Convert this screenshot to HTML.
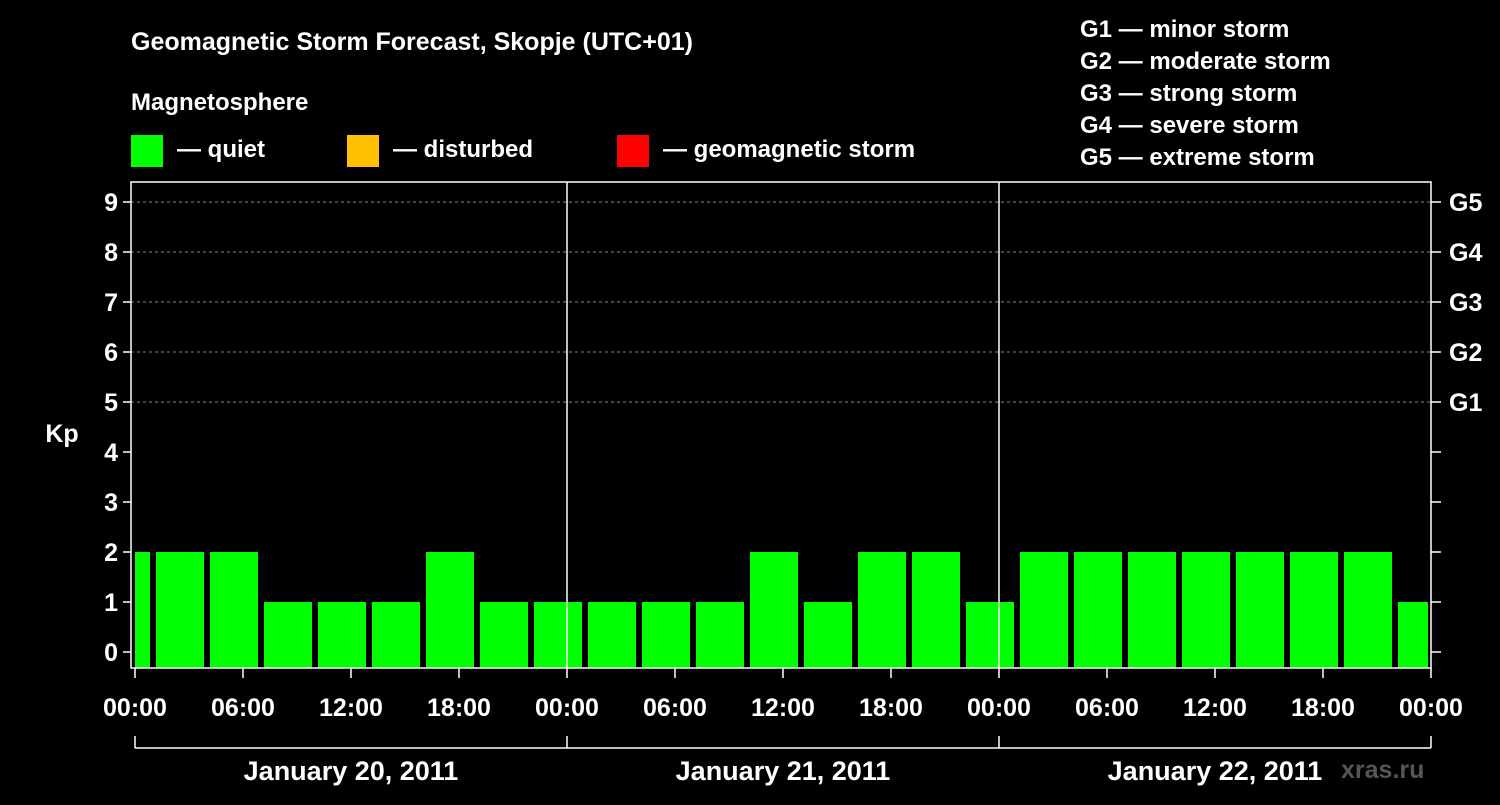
<!DOCTYPE html>
<html><head><meta charset="utf-8"><style>
body{margin:0;background:#000;width:1500px;height:800px;overflow:hidden}
svg text{font-family:"Liberation Sans",sans-serif;font-weight:bold;fill:#fff}
</style></head><body>
<svg id="c" width="1500" height="800">
<text x="131" y="50" font-size="25">Geomagnetic Storm Forecast, Skopje (UTC+01)</text>
<text x="131" y="110" font-size="24">Magnetosphere</text>
<g><rect x="131" y="135" width="32" height="32" fill="#00ff00"/><text x="177" y="157" font-size="24">— quiet</text></g>
<g><rect x="347" y="135" width="32" height="32" fill="#ffc000"/><text x="393" y="157" font-size="24">— disturbed</text></g>
<g><rect x="617" y="135" width="32" height="32" fill="#ff0000"/><text x="663" y="157" font-size="24">— geomagnetic storm</text></g>
<g font-size="24">
<text x="1080" y="37">G1 — minor storm</text><text x="1080" y="69">G2 — moderate storm</text><text x="1080" y="101">G3 — strong storm</text><text x="1080" y="133">G4 — severe storm</text><text x="1080" y="165">G5 — extreme storm</text></g>
<text x="62" y="442" font-size="25" text-anchor="middle">Kp</text>
<text x="1341" y="778" font-size="25" fill="#555" style="fill:#555">xras.ru</text>
<g id="plot"></g>
</svg>
<script>
const values=[2,2,2,1,1,1,2,1,1,1,1,1,2,1,2,2,1,2,2,2,2,2,2,2,1];
const yTicks=[0,1,2,3,4,5,6,7,8,9];
const gLabels=["G1","G2","G3","G4","G5"];
const xLabels=["00:00","06:00","12:00","18:00","00:00","06:00","12:00","18:00","00:00","06:00","12:00","18:00","00:00"];
const days=["January 20, 2011","January 21, 2011","January 22, 2011"];
const NS="http://www.w3.org/2000/svg";
const L=131,R=1431,T=182,B=668,x0=135,pxH=18;
const y=v=>652-50*v;
const x=h=>x0+h*pxH;
const g=document.getElementById('plot');
function mk(t,a,p){const e=document.createElementNS(NS,t);for(const k in a)e.setAttribute(k,a[k]);(p||g).appendChild(e);return e;}
yTicks.forEach(v=>{
 if(v>=5){const e=mk('line',{x1:L,x2:R,y1:y(v),y2:y(v),stroke:'#888','stroke-dasharray':'3,3'});
 
 }
 mk('line',{x1:L-8,x2:L,y1:y(v),y2:y(v),stroke:'#fff','stroke-width':1.5});
 mk('line',{x1:R,x2:R+10,y1:y(v),y2:y(v),stroke:'#fff','stroke-width':1.5});
 const t=mk('text',{x:L-13,y:y(v)+9,'font-size':25,'text-anchor':'end'});t.textContent=v;
 
 
});
gLabels.forEach((s,i)=>{const t=mk('text',{x:R+18,y:y(5+i)+9,'font-size':25});t.textContent=s;
 
 });
mk('clipPath',{id:'cp'});mk('rect',{x:x0,y:T,width:1428-x0,height:B-T},document.getElementById('cp'));
const bg=mk('g',{'clip-path':'url(#cp)'});
values.forEach((v,i)=>{
 const h0=-2+3*i;
 const col=v>=5?'#ff0000':v>=4?'#ffc000':'#00ff00';
 const r=mk('rect',{x:x(h0)+3,y:y(v),width:3*pxH-6,height:B-y(v),fill:col},bg);
 
 
});
[24,48].forEach(h=>mk('line',{x1:x(h),x2:x(h),y1:T,y2:B,stroke:'#fff','stroke-width':1.5}));
mk('rect',{x:L,y:T,width:R-L,height:B-T,fill:'none',stroke:'#fff','stroke-width':1.5});
xLabels.forEach((s,i)=>{const h=i*6;
 mk('line',{x1:x(h),x2:x(h),y1:B,y2:B+10,stroke:'#fff','stroke-width':1.5});
 const t=mk('text',{x:x(h),y:716,'font-size':25,'text-anchor':'middle'});t.textContent=s;
 
 });
mk('line',{x1:x(0),x2:x(72),y1:748,y2:748,stroke:'#fff','stroke-width':1.5});
[0,24,48,72].forEach(h=>mk('line',{x1:x(h),x2:x(h),y1:736,y2:748,stroke:'#fff','stroke-width':1.5}));
days.forEach((d,i)=>{const t=mk('text',{x:x(i*24+12),y:780,'font-size':27,'text-anchor':'middle'});t.textContent=d;
 
 });
</script>
</body></html>
